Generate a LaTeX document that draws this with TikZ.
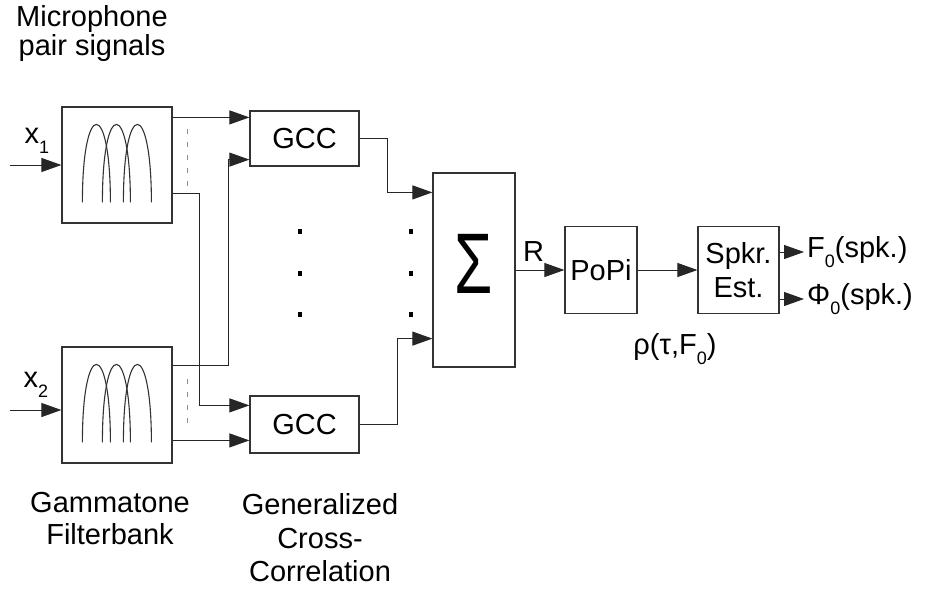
\documentclass[tikz,border=0pt]{standalone}
\usepackage{fontspec}
\setmainfont{Liberation Sans}
\usetikzlibrary{calc,arrows.meta}

\newcommand{\lsub}[1]{\raisebox{-10pt}{\fontsize{18}{18}\selectfont #1}}

\tikzset{
  blk/.style={draw=black!80,line width=1.2pt,inner sep=0pt,align=center,
    font=\fontsize{29}{34}\selectfont},
  sig/.style={draw=black!85,line width=1pt,-{Triangle[length=20pt,width=14pt]}},
  lbl/.style={align=center,inner sep=0pt,font=\fontsize{29}{33}\selectfont},
}

\begin{document}
\begin{tikzpicture}[x=1pt,y=-1pt]
  \useasboundingbox (0,0) rectangle (929,590);
  \newcommand{\arches}[1]{%
    \foreach \dx in {21,41,62}{%
      \draw[black!80,line width=1.1pt]
        ($(#1.north west)+(\dx,96)$) .. controls +(0,-104) and +(0,-104) .. +(28,0);
    }%
  }
  % filterbanks
  \node[blk,minimum width=110pt,minimum height=116pt] (fbA) at (117,165) {};
  \node[blk,minimum width=110pt,minimum height=116pt] (fbB) at (117,405) {};
  \arches{fbA}
  \arches{fbB}
  \draw[black!45,line width=0.8pt,dash pattern=on 5pt off 8pt]
    ($(fbA.north east)+(15,23)$) -- ($(fbA.north east)+(15,83)$);
  \draw[black!45,line width=0.8pt,dash pattern=on 5pt off 8pt]
    ($(fbB.north east)+(15,33)$) -- ($(fbB.north east)+(15,83)$);

  % blocks
  \node[blk,minimum width=109pt,minimum height=55pt] (gccA) at (304.5,138.5) {GCC};
  \node[blk,minimum width=109pt,minimum height=57pt] (gccB) at (304.5,424.5) {GCC};
  \node[blk,minimum width=82pt,minimum height=194pt,text depth=12pt,
    font=\fontsize{86}{86}\selectfont] (sum) at (474,270) {\scalebox{0.72}[1]{Σ}};
  \node[blk,minimum width=72pt,minimum height=87pt] (popi) at (601,270) {PoPi};
  \node[blk,minimum width=81pt,minimum height=87pt] (spkr) at (738.5,270) {Spkr.\\Est.};

  % more channels
  \foreach \x in {300,411}
    \foreach \y in {231,273,314}
      \fill[black] (\x-2,\y-2.5) rectangle (\x+2,\y+2.5);

  % labels
  \node[lbl,font=\fontsize{29}{29}\selectfont] (micLbl) at (92,33) {Microphone\\pair signals};
  \node[lbl,font=\fontsize{29}{32}\selectfont] (gamLbl) at (110,519) {Gammatone\\Filterbank};
  \node[lbl,font=\fontsize{29}{33.5}\selectfont] (gccLbl) at (320,538) {Generalized\\Cross-\\Correlation};
  \node[lbl] (xA) at (37,141) {x\lsub{1}};
  \node[lbl] (xB) at (36,385) {x\lsub{2}};
  \node[lbl] (rho) at (675,349) {ρ(τ,F\lsub{0})};
  \node[lbl,inner xsep=3pt,anchor=west] (fOut) at (804,252) {F\lsub{0}(spk.)};
  \node[lbl,inner xsep=3pt,anchor=west] (phiOut) at (804,299) {Φ\lsub{0}(spk.)};

  % inputs
  \coordinate (inA) at (10,165);
  \coordinate (inB) at (10,410);
  \draw[sig] (inA) -- (fbA.west);
  \draw[sig] (inB) -- (inB -| fbB.west);

  % filterbank to GCC
  \coordinate (a1) at ($(fbA.north east)+(0,11)$);
  \coordinate (a2) at ($(fbA.north east)+(0,87)$);
  \coordinate (b1) at ($(fbB.north east)+(0,19)$);
  \coordinate (b2) at ($(fbB.north east)+(0,94)$);
  \draw[sig] (a1) -- (a1 -| gccA.west);
  \draw[sig] (a2) -| ($(gccB.north west)+(-50,10)$) -- ($(gccB.north west)+(0,10)$);
  \draw[sig] (b1) -| ($(gccA.south west)+(-21,-7)$) -- ($(gccA.south west)+(0,-7)$);
  \draw[sig] (b2) -- (b2 -| gccB.west);

  % GCC to sum
  \draw[sig] (gccA.east) -| ($(sum.north west)+(-45,20)$) -- ($(sum.north west)+(0,20)$);
  \draw[sig] (gccB.east) -| ($(sum.south west)+(-35,-29)$) -- ($(sum.south west)+(0,-29)$);

  % right part
  \draw[sig] (sum.east) -- node[lbl,pos=0.37,above=8pt] (rLbl) {R} (popi.west);
  \draw[sig] (popi) -- (spkr);
  \coordinate (s1) at (spkr.east |- fOut.west);
  \coordinate (s2) at (spkr.east |- phiOut.west);
  \draw[sig] (s1) -- (fOut.west);
  \draw[sig] (s2) -- (phiOut.west);
\end{tikzpicture}
\end{document}
